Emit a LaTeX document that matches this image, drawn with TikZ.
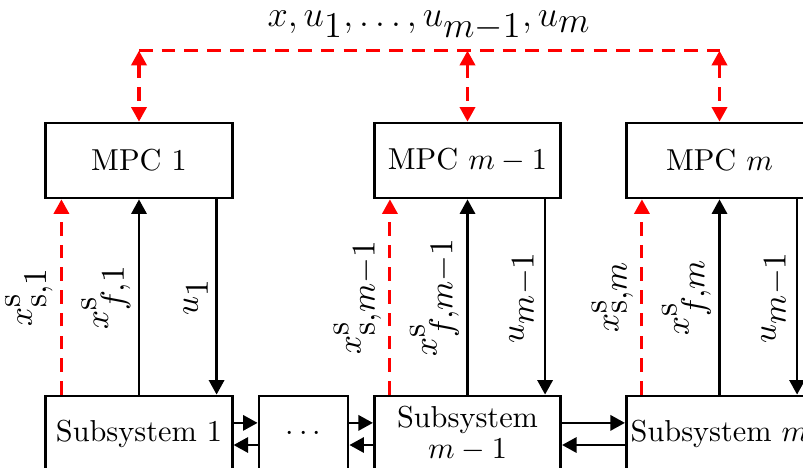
\documentclass[tikz,border=0pt]{standalone}
\usetikzlibrary{arrows.meta,calc}
\DeclareMathSizes{11}{11}{11}{11}
\DeclareMathSizes{11.5}{11.5}{11.5}{11.5}
\tikzset{
  blk/.style={draw, line width=0.9pt, minimum width=61.5pt, minimum height=24.75pt,
    inner sep=1pt, align=center, font=\fontsize{10}{12}\selectfont},
  tipT/.tip={Triangle[length=4.8pt,width=5pt]},
  sig/.style={line width=0.9pt, -tipT},
  rdash/.style={red, line width=1pt, dash pattern=on 4.5pt off 3pt},
  rsig/.style={rdash, -tipT},
  rboth/.style={rdash, tipT-tipT},
  lab/.style={rotate=90, anchor=south, inner sep=2.4pt, text=black, font=\fontsize{11}{13}\selectfont},
  toplab/.style={font=\fontsize{11.5}{13}\selectfont, inner sep=0pt, text=black},
}
\begin{document}
\begin{tikzpicture}[x=0.33pt, y=-0.33pt]
\useasboundingbox (0,0) rectangle (803,468);
\clip (0,0) rectangle (803,468);

% controllers
\node[blk] (mpc1)  at (139,160.5)   {MPC 1};
\node[blk] (mpcm1) at (467.5,160.5) {MPC $m-1$};
\node[blk] (mpcm)  at (719.5,160.5) {MPC $m$};

% subsystems
\node[blk] (sub1)  at (139,433.5)   {Subsystem 1};
\node[blk, minimum width=29.4pt] (dots) at (303.5,433.5) {$\cdots$};
\node[blk] (subm1) at (467.5,433.5) {Subsystem\\[-1.5pt]$m-1$};
\node[blk] (subm)  at (719.5,433.5) {Subsystem $m$};

% communication bus
\coordinate (b1) at ([yshift=23.4pt]mpc1.north);
\coordinate (b2) at ([yshift=23.4pt]mpcm1.north);
\coordinate (b3) at ([yshift=23.4pt]mpcm.north);
\draw[rdash] (b1) -- (b3);
\draw[rboth] (b1) -- (mpc1.north);
\draw[rboth] (b2) -- (mpcm1.north);
\draw[rboth] (b3) -- (mpcm.north);
\node[toplab, anchor=base] (toplabel) at ($(b1)!0.5!(b3)+(0,-24)$) {$x,u_1,\ldots,u_{m-1},u_m$};

% subsystem 1 <-> MPC 1
\draw[rsig] ([xshift=5.6pt]sub1.north west) -- node[lab] {$x^{\mathrm{s}}_{\mathrm{s},1}$} ([xshift=5.6pt]mpc1.south west);
\draw[sig] (sub1.north) -- node[lab] {$x^{\mathrm{s}}_{f,1}$} (mpc1.south);
\draw[sig] ([xshift=-5.6pt]mpc1.south east) -- node[lab] {$u_1$} ([xshift=-5.6pt]sub1.north east);

% subsystem m-1 <-> MPC m-1
\draw[rsig] ([xshift=5.6pt]subm1.north west) -- node[lab] {$x^{\mathrm{s}}_{\mathrm{s},m-1}$} ([xshift=5.6pt]mpcm1.south west);
\draw[sig] (subm1.north) -- node[lab] {$x^{\mathrm{s}}_{f,m-1}$} (mpcm1.south);
\draw[sig] ([xshift=-5.6pt]mpcm1.south east) -- node[lab] {$u_{m-1}$} ([xshift=-5.6pt]subm1.north east);

% subsystem m <-> MPC m
\draw[rsig] ([xshift=5.6pt]subm.north west) -- node[lab] {$x^{\mathrm{s}}_{\mathrm{s},m}$} ([xshift=5.6pt]mpcm.south west);
\draw[sig] (subm.north) -- node[lab] {$x^{\mathrm{s}}_{f,m}$} (mpcm.south);
\draw[sig] ([xshift=-5.6pt]mpcm.south east) -- node[lab] {$u_{m-1}$} ([xshift=-5.6pt]subm.north east);

% coupling between subsystems
\draw[sig] ([yshift=3.5pt]sub1.east) -- ([yshift=3.5pt]dots.west);
\draw[sig] ([yshift=-3.8pt]dots.west) -- ([yshift=-3.8pt]sub1.east);
\draw[sig] ([yshift=3.5pt]dots.east) -- ([yshift=3.5pt]subm1.west);
\draw[sig] ([yshift=-3.8pt]subm1.west) -- ([yshift=-3.8pt]dots.east);
\draw[sig] ([yshift=3.5pt]subm1.east) -- ([yshift=3.5pt]subm.west);
\draw[sig] ([yshift=-3.8pt]subm.west) -- ([yshift=-3.8pt]subm1.east);
\end{tikzpicture}
\end{document}
